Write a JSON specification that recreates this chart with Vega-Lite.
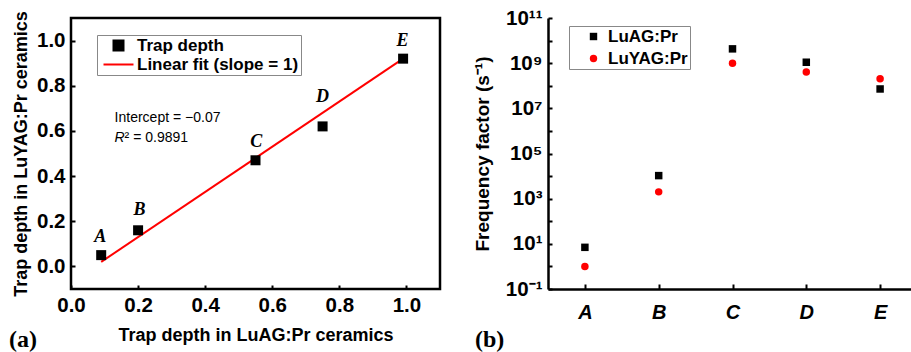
{
  "$schema": "https://vega.github.io/schema/vega-lite/v6.json",
  "padding": {"left": 7, "top": 8, "right": 0, "bottom": 0},
  "background": "white",
  "bounds": "flush",
  "spacing": 108,
  "resolve": {"scale": {"color": "independent", "shape": "independent"}, "legend": {"color": "independent", "shape": "independent"}},
  "datasets": {
    "trap": [
      {"pt": "A", "x": 0.09, "y": 0.05, "series": "Trap depth"},
      {"pt": "B", "x": 0.2, "y": 0.16, "series": "Trap depth"},
      {"pt": "C", "x": 0.55, "y": 0.47, "series": "Trap depth"},
      {"pt": "D", "x": 0.75, "y": 0.62, "series": "Trap depth"},
      {"pt": "E", "x": 0.99, "y": 0.92, "series": "Trap depth"}
    ],
    "fit": [
      {"x": 0.09, "y": 0.02, "series": "Linear fit (slope = 1)"},
      {"x": 0.99, "y": 0.92, "series": "Linear fit (slope = 1)"}
    ],
    "letters": [
      {"t": "A", "x": 0.087, "y": 0.13},
      {"t": "B", "x": 0.204, "y": 0.25},
      {"t": "C", "x": 0.552, "y": 0.55},
      {"t": "D", "x": 0.75, "y": 0.75},
      {"t": "E", "x": 0.988, "y": 1.0}
    ],
    "notes": [
      {"t": "Intercept = \u22120.07", "x": 0.13, "y": 0.657}
    ],
    "freq": [
      {"sample": "A", "series": "LuAG:Pr", "value": 7},
      {"sample": "A", "series": "LuYAG:Pr", "value": 1},
      {"sample": "B", "series": "LuAG:Pr", "value": 10500},
      {"sample": "B", "series": "LuYAG:Pr", "value": 2000},
      {"sample": "C", "series": "LuAG:Pr", "value": 4300000000},
      {"sample": "C", "series": "LuYAG:Pr", "value": 1000000000},
      {"sample": "D", "series": "LuAG:Pr", "value": 1100000000},
      {"sample": "D", "series": "LuYAG:Pr", "value": 410000000},
      {"sample": "E", "series": "LuAG:Pr", "value": 72000000},
      {"sample": "E", "series": "LuYAG:Pr", "value": 205000000}
    ]
  },
  "hconcat": [
    {
      "width": 369,
      "height": 271,
      "view": {"stroke": "black", "strokeWidth": 2.5},
      "title": {"text": "(a)", "orient": "bottom", "anchor": "start", "frame": "group", "font": "Liberation Serif", "fontWeight": "bold", "fontSize": 24, "color": "black", "dx": -62, "offset": -17},
      "layer": [
        {
          "data": {"name": "fit"},
          "mark": {"type": "line", "color": "red", "strokeWidth": 2},
          "encoding": {
            "x": {"field": "x", "type": "quantitative",
              "scale": {"domain": [0, 1.1], "nice": false, "zero": false},
              "axis": {"values": [0, 0.1, 0.2, 0.3, 0.4, 0.5, 0.6, 0.7, 0.8, 0.9, 1.0],
                "labelExpr": "abs(round(datum.value*10)) % 2 == 0 ? format(datum.value, '.1f') : ''",
                "tickSize": -4, "tickWidth": 2, "domain": false, "grid": false,
                "labelFlush": false, "labelOverlap": false,
                "labelFont": "Liberation Sans", "labelFontWeight": "bold", "labelFontSize": 20.5, "labelPadding": 10,
                "title": "Trap depth in LuAG:Pr ceramics", "titleFont": "Liberation Sans", "titleFontWeight": "bold", "titleFontSize": 18, "titlePadding": 11}},
            "y": {"field": "y", "type": "quantitative",
              "scale": {"domain": [-0.1, 1.1], "nice": false, "zero": false},
              "axis": {"values": [0, 0.1, 0.2, 0.3, 0.4, 0.5, 0.6, 0.7, 0.8, 0.9, 1.0],
                "labelExpr": "abs(round(datum.value*10)) % 2 == 0 ? format(datum.value, '.1f') : ''",
                "tickSize": -4, "tickWidth": 2, "domain": false, "grid": false,
                "labelOverlap": false,
                "labelFont": "Liberation Sans", "labelFontWeight": "bold", "labelFontSize": 20.5, "labelPadding": 10,
                "title": "Trap depth in LuYAG:Pr ceramics", "titleFont": "Liberation Sans", "titleFontWeight": "bold", "titleFontSize": 18, "titlePadding": 6}},
            "color": {"field": "series", "type": "nominal",
              "scale": {"domain": ["Trap depth", "Linear fit (slope = 1)"], "range": ["black", "red"]},
              "legend": {"title": null, "orient": "none", "legendX": 26, "legendY": 17,
                "strokeColor": "#888", "fillColor": "white", "padding": 2,
                "symbolSize": 100, "symbolOffset": 11, "labelOffset": 10, "rowPadding": 0, "labelLimit": 400,
                "labelFont": "Liberation Sans", "labelFontWeight": "bold", "labelFontSize": 17, "labelColor": "black",
                "encode": {"symbols": {"update": {
                  "shape": {"signal": "datum.value === 'Trap depth' ? 'square' : 'M-3,0H3'"},
                  "size": {"value": 100},
                  "fill": {"signal": "datum.value === 'Trap depth' ? 'black' : 'transparent'"},
                  "stroke": {"signal": "datum.value === 'Trap depth' ? 'transparent' : 'red'"},
                  "strokeWidth": {"value": 2},
                  "opacity": {"value": 1}
                }}}}}
          }
        },
        {
          "data": {"name": "trap"},
          "mark": {"type": "point", "shape": "square", "filled": true, "size": 100, "opacity": 1},
          "encoding": {
            "x": {"field": "x", "type": "quantitative"},
            "y": {"field": "y", "type": "quantitative"},
            "color": {"field": "series", "type": "nominal"}
          }
        },
        {
          "data": {"name": "letters"},
          "mark": {"type": "text", "font": "Liberation Serif", "fontWeight": "bold", "fontStyle": "italic", "fontSize": 18, "color": "black"},
          "encoding": {
            "x": {"field": "x", "type": "quantitative"},
            "y": {"field": "y", "type": "quantitative"},
            "text": {"field": "t"}
          }
        },
        {
          "data": {"name": "notes"},
          "mark": {"type": "text", "font": "Liberation Sans", "fontSize": 14, "align": "left", "color": "black"},
          "encoding": {
            "x": {"field": "x", "type": "quantitative"},
            "y": {"field": "y", "type": "quantitative"},
            "text": {"field": "t"}
          }
        },
        {
          "data": {"name": "notes"},
          "mark": {"type": "text", "font": "Liberation Sans", "fontSize": 14, "fontStyle": "italic", "align": "left", "color": "black", "dy": 20},
          "encoding": {
            "x": {"field": "x", "type": "quantitative"},
            "y": {"field": "y", "type": "quantitative"},
            "text": {"value": "R"}
          }
        },
        {
          "data": {"name": "notes"},
          "mark": {"type": "text", "font": "Liberation Sans", "fontSize": 14, "align": "left", "color": "black", "dy": 20, "dx": 10},
          "encoding": {
            "x": {"field": "x", "type": "quantitative"},
            "y": {"field": "y", "type": "quantitative"},
            "text": {"value": "\u00b2 = 0.9891"}
          }
        }
      ]
    },
    {
      "width": 362,
      "height": 271,
      "view": {"stroke": null},
      "title": {"text": "(b)", "orient": "bottom", "anchor": "start", "frame": "group", "font": "Liberation Serif", "fontWeight": "bold", "fontSize": 24, "color": "black", "dx": -73, "offset": 6},
      "layer": [
        {
          "mark": {"type": "rule", "color": "black", "strokeWidth": 2.5},
          "encoding": {"y": {"datum": 100000000000}}
        },
        {
          "data": {"name": "freq"},
          "mark": {"type": "point", "filled": true, "opacity": 1, "size": 56},
          "encoding": {
            "x": {"field": "sample", "type": "nominal",
              "scale": {"type": "point", "domain": ["A", "B", "C", "D", "E"], "range": [0, 369], "padding": 0.5},
              "axis": {"title": null, "tickSize": -5, "tickWidth": 2, "domainWidth": 2.5, "domainColor": "black", "labelAngle": 0,
                "labelFont": "Liberation Sans", "labelFontWeight": "bold", "labelFontStyle": "italic", "labelFontSize": 20, "labelPadding": 18}},
            "y": {"field": "value", "type": "quantitative",
              "scale": {"type": "log", "domain": [0.1, 100000000000], "nice": false},
              "axis": {"values": [0.1, 1, 10, 100, 1000, 10000, 100000, 1000000, 10000000, 100000000, 1000000000, 10000000000, 100000000000],
                "labelExpr": "(round(log(datum.value)/LN10) + 1) % 2 == 0 ? '10' + ['\u207b\u00b9','\u2070','\u00b9','\u00b2','\u00b3','\u2074','\u2075','\u2076','\u2077','\u2078','\u2079','\u00b9\u2070','\u00b9\u00b9'][round(log(datum.value)/LN10)+1] : ''",
                "tickSize": -4, "tickWidth": 2, "domainWidth": 2.5, "domainColor": "black", "grid": false, "labelOverlap": false,
                "labelFont": "Liberation Sans", "labelFontWeight": "bold", "labelFontSize": 20.5, "labelPadding": 10,
                "title": "Frequency factor (s\u207b\u00b9)", "titleFont": "Liberation Sans", "titleFontWeight": "bold", "titleFontSize": 19, "titlePadding": 13}},
            "color": {"field": "series", "type": "nominal",
              "scale": {"domain": ["LuAG:Pr", "LuYAG:Pr"], "range": ["black", "red"]},
              "legend": {"title": null, "orient": "none", "legendX": 21, "legendY": 8,
                "strokeColor": "#888", "fillColor": "white", "padding": 2,
                "symbolSize": 55, "symbolOffset": 14, "labelOffset": 6, "rowPadding": 4,
                "labelFont": "Liberation Sans", "labelFontWeight": "bold", "labelFontSize": 17, "labelColor": "black"}},
            "shape": {"field": "series", "type": "nominal",
              "scale": {"domain": ["LuAG:Pr", "LuYAG:Pr"], "range": ["square", "circle"]}}
          }
        }
      ]
    }
  ],
  "config": {
    "font": "Liberation Sans",
    "axis": {"labelColor": "black", "titleColor": "black", "tickColor": "black", "domainColor": "black"}
  }
}
